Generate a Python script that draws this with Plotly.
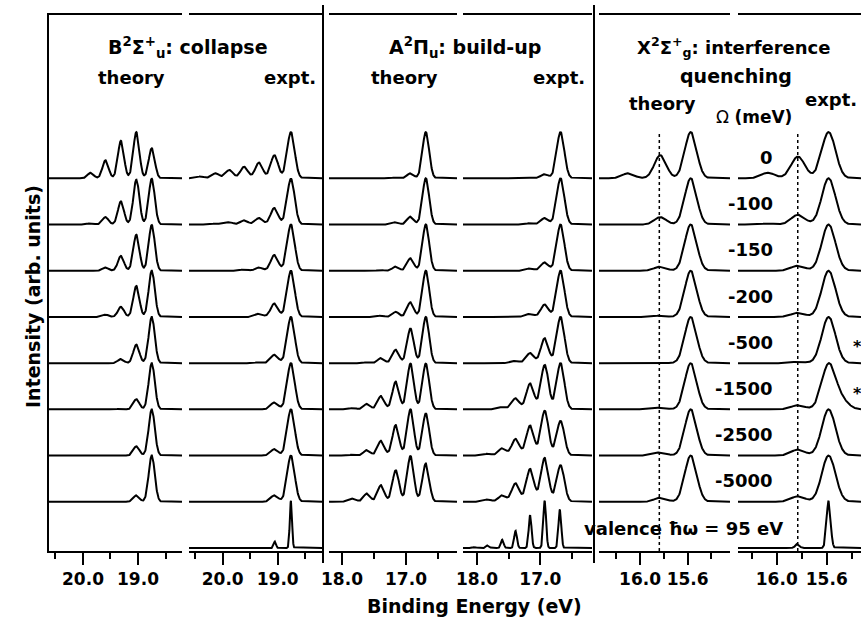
import numpy as np
import plotly.graph_objects as go

W, H = 861, 622

# ---------------- data ----------------
omega_labels = ["0", "-100", "-150", "-200", "-500", "-1500", "-2500", "-5000"]
starred_rows = [4, 5]

# B 2Sigma+u : collapse  (peak positions in eV, heights per row, row 0 = Omega 0)
b_theory_pos = [18.75, 19.03, 19.31, 19.59, 19.86]
b_theory_h = [
    [0.65, 1.00, 0.81, 0.39, 0.12],
    [0.99, 0.97, 0.50, 0.16, 0.03],
    [0.99, 0.78, 0.32, 0.07, 0.00],
    [1.00, 0.67, 0.22, 0.05, 0.00],
    [1.00, 0.40, 0.09, 0.00, 0.00],
    [1.00, 0.22, 0.02, 0.00, 0.00],
    [1.00, 0.20, 0.00, 0.00, 0.00],
    [1.00, 0.14, 0.00, 0.00, 0.00],
]
b_expt_pos = [18.76, 19.06, 19.34, 19.61, 19.88, 20.13, 20.40]
b_expt_h = [
    [1.00, 0.50, 0.34, 0.25, 0.18, 0.11, 0.04],
    [0.99, 0.36, 0.14, 0.09, 0.05, 0.02, 0.00],
    [1.00, 0.34, 0.07, 0.03, 0.00, 0.00, 0.00],
    [1.00, 0.29, 0.07, 0.00, 0.00, 0.00, 0.00],
    [1.00, 0.18, 0.02, 0.00, 0.00, 0.00, 0.00],
    [1.00, 0.15, 0.00, 0.00, 0.00, 0.00, 0.00],
    [1.00, 0.14, 0.00, 0.00, 0.00, 0.00, 0.00],
    [1.00, 0.14, 0.00, 0.00, 0.00, 0.00, 0.00],
]
b_valence_pos = [18.76, 19.05]
b_valence_h = [1.02, 0.14]

# A 2Pi u : build-up
a_theory_pos = [16.69, 16.93, 17.16, 17.39, 17.61, 17.83, 18.04]
a_theory_h = [
    [1.00, 0.11, 0.02, 0.00, 0.00, 0.00, 0.00],
    [1.00, 0.17, 0.05, 0.00, 0.00, 0.00, 0.00],
    [1.00, 0.27, 0.09, 0.01, 0.00, 0.00, 0.00],
    [1.00, 0.32, 0.11, 0.03, 0.00, 0.00, 0.00],
    [1.00, 0.75, 0.29, 0.11, 0.02, 0.00, 0.00],
    [0.99, 0.99, 0.60, 0.29, 0.12, 0.03, 0.00],
    [0.91, 1.00, 0.66, 0.32, 0.12, 0.02, 0.00],
    [0.83, 0.99, 0.68, 0.36, 0.18, 0.07, 0.01],
]
a_expt_pos = [16.68, 16.93, 17.16, 17.39, 17.60, 17.83, 18.04]
a_expt_h = [
    [1.00, 0.09, 0.01, 0.00, 0.00, 0.00, 0.00],
    [1.00, 0.14, 0.03, 0.00, 0.00, 0.00, 0.00],
    [1.00, 0.18, 0.05, 0.00, 0.00, 0.00, 0.00],
    [1.00, 0.27, 0.07, 0.01, 0.00, 0.00, 0.00],
    [1.00, 0.54, 0.22, 0.05, 0.00, 0.00, 0.00],
    [1.00, 0.96, 0.56, 0.24, 0.05, 0.00, 0.00],
    [0.75, 0.97, 0.65, 0.36, 0.16, 0.04, 0.00],
    [0.79, 0.95, 0.71, 0.40, 0.14, 0.05, 0.00],
]
a_valence_pos = [16.69, 16.93, 17.16, 17.39, 17.60, 17.83, 18.04]
a_valence_h = [0.83, 1.02, 0.71, 0.37, 0.18, 0.06, 0.02]

# X 2Sigma+g : interference quenching
x_theory_pos = [15.574, 15.83, 16.10]
x_theory_h = [
    [1.00, 0.50, 0.11],
    [1.00, 0.16, 0.00],
    [1.00, 0.09, 0.00],
    [1.00, 0.03, 0.00],
    [1.00, 0.01, 0.00],
    [1.00, 0.04, 0.00],
    [1.00, 0.07, 0.00],
    [1.00, 0.09, 0.00],
]
x_expt_pos = [15.585, 15.83, 16.07, 15.48]
x_expt_h = [
    [1.00, 0.47, 0.12, 0.00],
    [1.00, 0.21, 0.02, 0.00],
    [1.00, 0.11, 0.00, 0.00],
    [1.00, 0.09, 0.00, 0.00],
    [1.00, 0.03, 0.00, 0.00],
    [0.97, 0.09, 0.00, 0.18],
    [1.00, 0.13, 0.00, 0.00],
    [1.00, 0.12, 0.00, 0.00],
]
x_valence_pos = [15.585, 15.835]
x_valence_h = [1.02, 0.09]
x_marker_theory = 15.838   # dotted guide lines
x_marker_expt = 15.832

# ---------------- layout helpers ----------------
def fx(p):
    return p / W

def fy(p):
    return (H - p) / H

ROW_BASE = [8 - i for i in range(8)]
VAL_BASE = 0.0
Y_RANGE = [-0.065, 11.534]

FONT = "DejaVu Sans"

panels = [
    dict(px=(49, 182), rng=[20.618, 18.2], dt=1.0, mdt=0.5, t0=19.0,
         pos=b_theory_pos, h=b_theory_h, sig=0.055, vpos=None),
    dict(px=(189, 322), rng=[20.613, 18.195], dt=1.0, mdt=0.5, t0=19.0,
         pos=b_expt_pos, h=b_expt_h, sig=0.068, vpos=b_valence_pos,
         vh=b_valence_h, vsig=0.02),
    dict(px=(329, 457), rng=[18.203, 16.203], dt=1.0, mdt=0.5, t0=17.0,
         pos=a_theory_pos, h=a_theory_h, sig=0.052, vpos=None),
    dict(px=(463, 592), rng=[18.221, 16.183], dt=1.0, mdt=0.5, t0=17.0,
         pos=a_expt_pos, h=a_expt_h, sig=0.06, vpos=a_valence_pos,
         vh=a_valence_h, vsig=0.022),
    dict(px=(599, 730), rng=[16.345, 15.244], dt=0.4, mdt=0.2, t0=15.6,
         pos=x_theory_pos, h=x_theory_h, sig=0.05, vpos=None),
    dict(px=(738, 861), rng=[16.31, 15.326], dt=0.4, mdt=0.2, t0=15.6,
         pos=x_expt_pos, h=x_expt_h, sig=0.055, vpos=x_valence_pos,
         vh=x_valence_h, vsig=0.016),
]


def spectrum(x, pos, hts, sig):
    y = np.zeros_like(x)
    for p, h in zip(pos, hts):
        if h:
            y += h * np.exp(-0.5 * ((x - p) / sig) ** 2)
    return y


fig = go.Figure()
layout_axes = {}
for k, P in enumerate(panels, start=1):
    xs = np.linspace(min(P["rng"]), max(P["rng"]), 500)
    X, Y = [], []
    for i, row in enumerate(P["h"]):
        yy = ROW_BASE[i] + spectrum(xs, P["pos"], row, P["sig"])
        X += list(xs) + [None]
        Y += list(yy) + [None]
    if P["vpos"] is not None:
        xv = np.linspace(min(P["rng"]), max(P["rng"]), 1200)
        yv = VAL_BASE + spectrum(xv, P["vpos"], P["vh"], P["vsig"])
        X += list(xv)
        Y += list(yv)
    xname = "x" if k == 1 else f"x{k}"
    fig.add_trace(go.Scatter(x=X, y=Y, mode="lines", xaxis=xname, yaxis="y",
                             line=dict(color="black", width=2),
                             showlegend=False, hoverinfo="skip"))
    axkey = "xaxis" if k == 1 else f"xaxis{k}"
    layout_axes[axkey] = dict(
        domain=[fx(P["px"][0]), fx(P["px"][1])],
        range=P["rng"], anchor="y", showline=True, mirror=True,
        linecolor="black", linewidth=2, showgrid=False, zeroline=False,
        ticks="outside", ticklen=12, tickwidth=2, tickcolor="black",
        tickmode="linear", dtick=P["dt"], tick0=P["t0"], tickformat=".1f",
        tickfont=dict(family=FONT, size=17, color="black", weight="bold"),
        minor=dict(ticks="outside", ticklen=6, tickwidth=2, tickcolor="black",
                   dtick=P["mdt"], tick0=P["t0"], showgrid=False),
        automargin=False, fixedrange=True,
    )

shapes = []
# group separators
for sx in (323, 594):
    shapes.append(dict(type="line", xref="paper", yref="paper",
                       x0=fx(sx), x1=fx(sx), y0=fy(563), y1=fy(5),
                       line=dict(color="black", width=2)))
# dotted guide lines in X panels
for ax, xv in (("x5", x_marker_theory), ("x6", x_marker_expt)):
    shapes.append(dict(type="line", xref=ax, yref="y", x0=xv, x1=xv,
                       y0=Y_RANGE[0], y1=9.0,
                       line=dict(color="black", width=1.5, dash="dot")))

ann = []


def text(x, y, s, size=18, xanchor="center", weight="bold", yref="paper"):
    ann.append(dict(x=x, y=y, xref="paper", yref=yref, text=s,
                    showarrow=False, xanchor=xanchor, yanchor="middle",
                    font=dict(family=FONT, size=size, color="black",
                              weight=weight)))


text(fx(188), fy(47), "B<sup>2</sup>Σ<sup>+</sup><sub>u</sub>: collapse", size=19)
text(fx(465), fy(47), "A<sup>2</sup>Π<sub>u</sub>: build-up", size=19)
text(fx(734), fy(47), "X<sup>2</sup>Σ<sup>+</sup><sub>g</sub>: interference", size=18)
text(fx(736), fy(76), "quenching", size=19)
text(fx(131), fy(78), "theory")
text(fx(290), fy(78), "expt.")
text(fx(404), fy(78), "theory")
text(fx(559), fy(78), "expt.")
text(fx(662), fy(103), "theory")
text(fx(831), fy(100), "expt.")
text(fx(754), fy(117), "Ω <b>(meV)</b>", size=17, weight="normal")
for i, lab in enumerate(omega_labels):
    text(fx(775), ROW_BASE[i] + 0.45, lab, xanchor="right", yref="y")
for i in starred_rows:
    text(fx(857), ROW_BASE[i] + 0.35, "*", size=16, yref="y")
text(fx(683), fy(528), "valence ħω = 95 eV")
text(fx(474), fy(606), "Binding Energy (eV)", size=19)
ann.append(dict(x=fx(20), y=fy(297), xref="paper", yref="paper",
                text="Intensity (arb. units)", textangle=-90, showarrow=False,
                font=dict(family=FONT, size=19, color="black", weight="bold")))

fig.update_layout(
    width=W, height=H, margin=dict(l=0, r=0, t=0, b=0, pad=0),
    paper_bgcolor="white", plot_bgcolor="white", showlegend=False,
    yaxis=dict(domain=[fy(551), fy(15)], range=Y_RANGE, anchor="x",
               showline=True, linecolor="black", linewidth=2,
               showticklabels=False, ticks="", showgrid=False,
               zeroline=False, automargin=False, fixedrange=True),
    shapes=shapes, annotations=ann,
    **layout_axes,
)

fig.write_html("out.html")
